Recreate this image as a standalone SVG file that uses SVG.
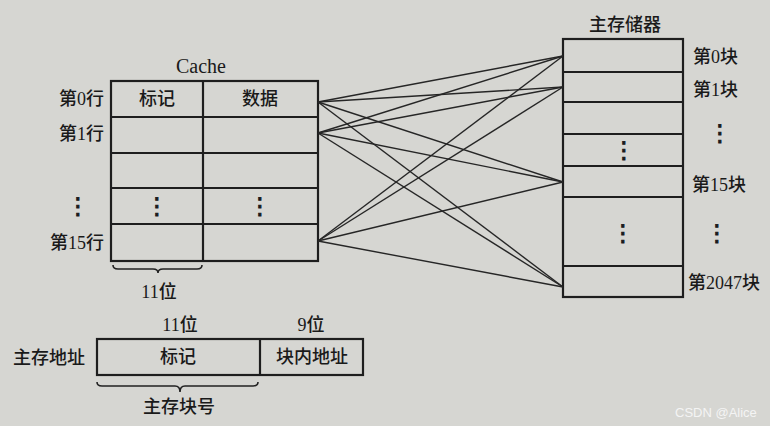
<svg xmlns="http://www.w3.org/2000/svg" width="770" height="426" viewBox="0 0 770 426">
<style>
.bg{fill:#d6d6d2}
.box{fill:none;stroke:#1e1e1e;stroke-width:2.2}
.ln{stroke:#1e1e1e;stroke-width:2.2;fill:none}
.conn{stroke:#262626;stroke-width:1.4;fill:none}
.brace{stroke:#222;stroke-width:1.6;fill:none}
text{font-family:"Liberation Serif","Noto Sans CJK SC",serif;font-size:18px;font-weight:500;fill:#1a1a1a;dominant-baseline:central}
.c{text-anchor:middle}
.e{text-anchor:end}
.cache{font-size:20px;font-weight:400}
.dots{font-family:"DejaVu Sans",sans-serif;font-size:23px;font-weight:400;text-anchor:middle;stroke:#1a1a1a;stroke-width:0.9}
.wm{font-family:"Liberation Sans",sans-serif;font-size:13px;font-weight:400;fill:#f4f4f4}
</style>
<rect class="bg" x="0" y="0" width="770" height="426"/>

<g id="cache">
  <text class="c cache" x="201" y="66">Cache</text>
  <rect class="box" x="111" y="81" width="207" height="180"/>
  <line class="ln" x1="203" y1="81" x2="203" y2="261"/>
  <line class="ln" x1="111" y1="117" x2="318" y2="117"/>
  <line class="ln" x1="111" y1="153" x2="318" y2="153"/>
  <line class="ln" x1="111" y1="188" x2="318" y2="188"/>
  <line class="ln" x1="111" y1="224" x2="318" y2="224"/>
  <text class="c" x="157" y="99">标记</text>
  <text class="c" x="260" y="99">数据</text>
  <text class="dots" x="157" y="206">⋮</text>
  <text class="dots" x="260" y="206">⋮</text>
  <text class="e" x="104" y="99">第0行</text>
  <text class="e" x="104" y="134">第1行</text>
  <text class="dots" x="78" y="206">⋮</text>
  <text class="e" x="104" y="243">第15行</text>
  <path class="brace" d="M113,265 Q113,269 118,269 L153,269 Q158,269 158,273 Q158,269 163,269 L197,269 Q202,269 202,265"/>
  <text class="c" x="159" y="292">11位</text>
</g>

<g id="memory">
  <text class="c" x="625" y="25">主存储器</text>
  <rect class="box" x="563" y="39" width="120" height="258"/>
  <line class="ln" x1="563" y1="72" x2="683" y2="72"/>
  <line class="ln" x1="563" y1="102" x2="683" y2="102"/>
  <line class="ln" x1="563" y1="134" x2="683" y2="134"/>
  <line class="ln" x1="563" y1="166" x2="683" y2="166"/>
  <line class="ln" x1="563" y1="197" x2="683" y2="197"/>
  <line class="ln" x1="563" y1="266" x2="683" y2="266"/>
  <text class="dots" x="624" y="150">⋮</text>
  <text class="dots" x="623" y="233">⋮</text>
  <text x="693" y="57">第0块</text>
  <text x="693" y="90">第1块</text>
  <text class="dots" x="720" y="133">⋮</text>
  <text x="692" y="185">第15块</text>
  <text class="dots" x="717" y="233">⋮</text>
  <text x="688" y="283">第2047块</text>
</g>

<g id="connectors">
  <line class="conn" x1="318" y1="102" x2="563" y2="56"/>
  <line class="conn" x1="318" y1="102" x2="563" y2="87"/>
  <line class="conn" x1="318" y1="102" x2="563" y2="182"/>
  <line class="conn" x1="318" y1="102" x2="563" y2="287"/>
  <line class="conn" x1="318" y1="133" x2="563" y2="56"/>
  <line class="conn" x1="318" y1="133" x2="563" y2="87"/>
  <line class="conn" x1="318" y1="133" x2="563" y2="182"/>
  <line class="conn" x1="318" y1="133" x2="563" y2="287"/>
  <line class="conn" x1="318" y1="241" x2="563" y2="56"/>
  <line class="conn" x1="318" y1="241" x2="563" y2="87"/>
  <line class="conn" x1="318" y1="241" x2="563" y2="182"/>
  <line class="conn" x1="318" y1="241" x2="563" y2="287"/>
</g>

<g id="address">
  <text class="c" x="180" y="325">11位</text>
  <text class="c" x="311" y="325">9位</text>
  <text class="c" x="49" y="358">主存地址</text>
  <rect class="box" x="97" y="339" width="266" height="36"/>
  <line class="ln" x1="260" y1="339" x2="260" y2="375"/>
  <text class="c" x="178" y="357">标记</text>
  <text class="c" x="312" y="357">块内地址</text>
  <path class="brace" d="M97,382 Q97,386 102,386 L175,386 Q180,386 180,392 Q180,386 185,386 L253,386 Q258,386 258,382"/>
  <text class="c" x="179" y="407">主存块号</text>
</g>

<text class="wm" x="675" y="412">CSDN @Alice</text>
</svg>
